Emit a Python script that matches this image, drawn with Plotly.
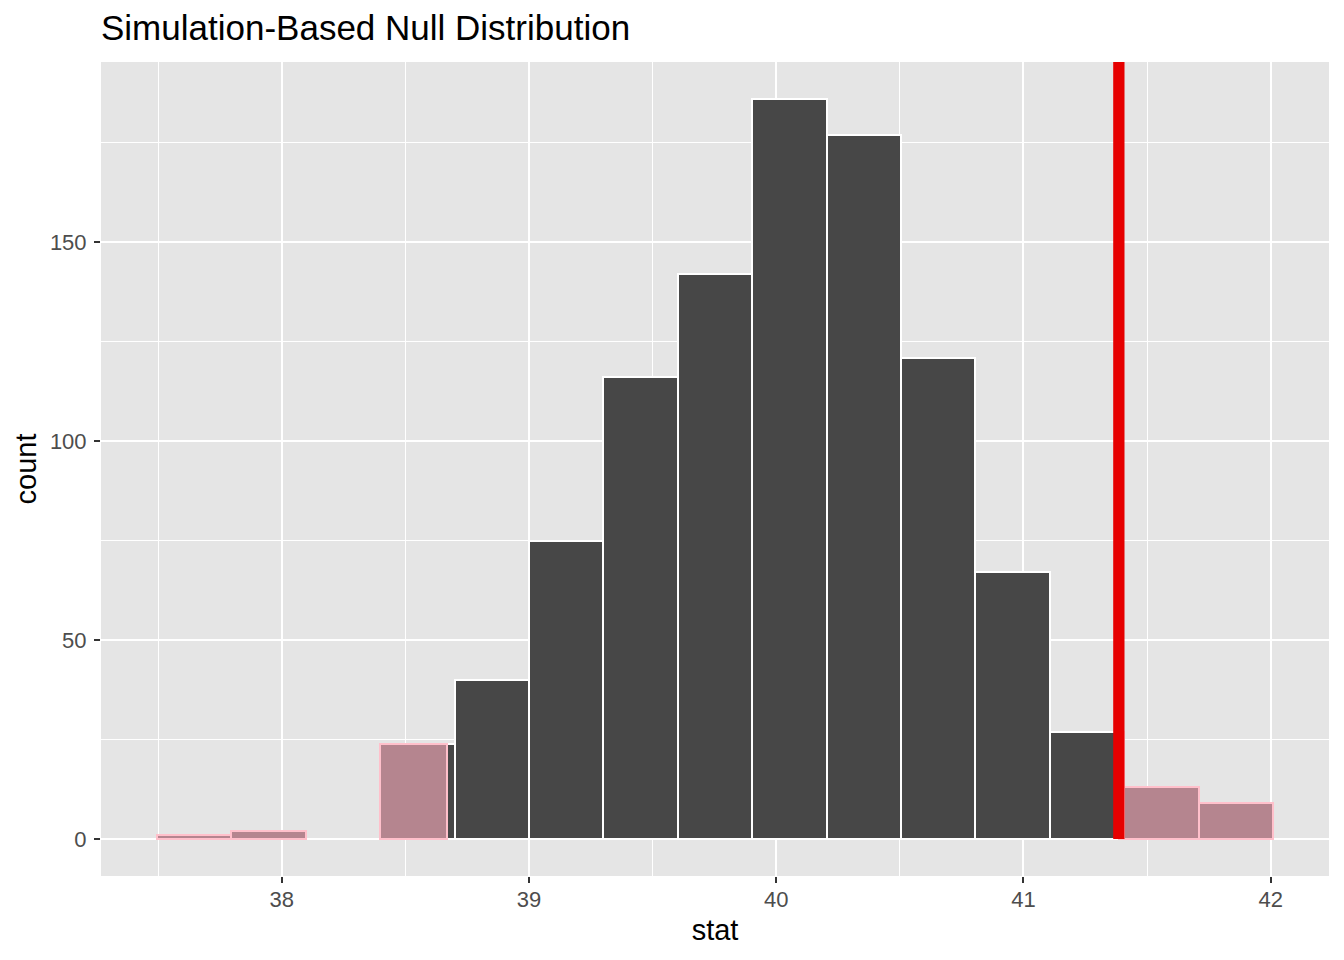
import plotly.graph_objects as go

# ---- data ----
bin_edges = [37.495, 37.796, 38.097, 38.398, 38.699, 39.000, 39.301, 39.602,
             39.903, 40.204, 40.505, 40.806, 41.107, 41.408, 41.709, 42.010]
counts = [1, 2, 0, 24, 40, 75, 116, 142, 186, 177, 121, 67, 27, 13, 9]
obs_stat = 41.386
shade_lower = 38.667

x_ticks = [38, 39, 40, 41, 42]
y_ticks = [0, 50, 100, 150]
x_minor = [37.5, 38.5, 39.5, 40.5, 41.5]
y_minor = [25, 75, 125, 175]
x_range = [37.269, 42.236]
y_range = [-9.3, 195.3]

DARK = "#474747"
PINK_FILL = "#B5858F"
PINK_LINE = "#FFC0CB"
RED = "#E60000"
FONT = "Liberation Sans, Arial, Helvetica, sans-serif"

dark = {"x": [], "w": [], "y": []}
pink = {"x": [], "w": [], "y": []}
for i, c in enumerate(counts):
    if c == 0:
        continue
    lo, hi = bin_edges[i], bin_edges[i + 1]
    cuts = sorted(set([lo, hi] + [v for v in (shade_lower, obs_stat) if lo < v < hi]))
    for a, b in zip(cuts[:-1], cuts[1:]):
        mid = (a + b) / 2
        tgt = pink if (mid < shade_lower or mid > obs_stat) else dark
        tgt["x"].append(mid)
        tgt["w"].append(b - a)
        tgt["y"].append(c)

fig = go.Figure()
fig.add_trace(go.Bar(x=dark["x"], y=dark["y"], width=dark["w"], base=0,
                     marker=dict(color=DARK, line=dict(color="white", width=2)),
                     showlegend=False, hoverinfo="skip"))
fig.add_trace(go.Bar(x=pink["x"], y=pink["y"], width=pink["w"], base=0,
                     marker=dict(color=PINK_FILL, line=dict(color=PINK_LINE, width=2)),
                     showlegend=False, hoverinfo="skip"))

fig.add_shape(type="line", x0=obs_stat, x1=obs_stat, y0=0, y1=y_range[1],
              xref="x", yref="y", line=dict(color=RED, width=11.3), layer="above")

axis_common = dict(
    showgrid=True, gridcolor="white", gridwidth=2.2,
    zeroline=False, showline=False,
    ticks="outside", ticklen=6, tickwidth=2, tickcolor="#333333",
    tickfont=dict(family=FONT, size=22, color="#4D4D4D"),
)

fig.update_xaxes(
    **axis_common,
    range=x_range, tickvals=x_ticks, ticktext=[str(v) for v in x_ticks],
    ticklabelstandoff=-2,
    minor=dict(showgrid=True, gridcolor="white", gridwidth=1.1, tickvals=x_minor, ticks=""),
    title=dict(text="stat", font=dict(family=FONT, size=29, color="black"), standoff=8),
)
fig.update_yaxes(
    **axis_common,
    range=y_range, tickvals=y_ticks, ticktext=[str(v) for v in y_ticks],
    ticklabelstandoff=3,
    minor=dict(showgrid=True, gridcolor="white", gridwidth=1.1, tickvals=y_minor, ticks=""),
    title=dict(text="count", font=dict(family=FONT, size=29, color="black"), standoff=4),
)

# page body has an 8px margin; figure is sized/offset to compensate
fig.update_layout(
    width=1336, height=952,
    margin=dict(l=93, r=15, t=54, b=84),
    paper_bgcolor="white", plot_bgcolor="#E5E5E5",
    barmode="overlay", bargap=0,
    title=dict(text="Simulation-Based Null Distribution", x=93 / 1336, xref="container",
               xanchor="left", y=1 - 20 / 952, yref="container", yanchor="middle",
               font=dict(family=FONT, size=35, color="black")),
    font=dict(family=FONT),
)

fig.write_html("out.html")
